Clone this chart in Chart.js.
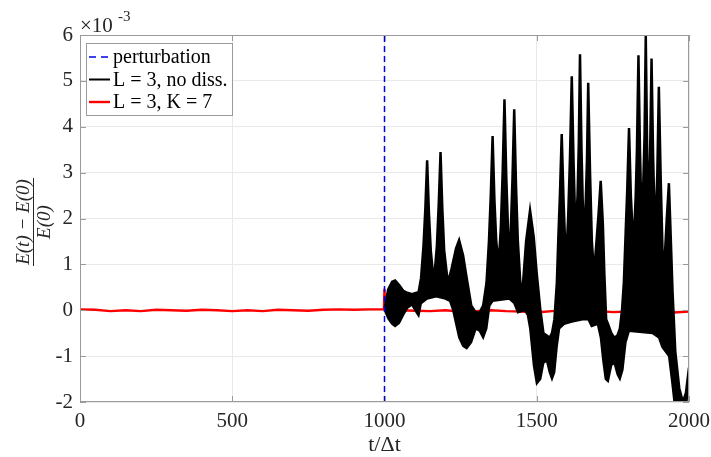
<!DOCTYPE html>
<html>
<head>
<meta charset="utf-8">
<script src="https://cdn.jsdelivr.net/npm/chart.js@4.4.1/dist/chart.umd.min.js"></script>
<style>
  html, body { margin: 0; padding: 0; background: #fff; }
  #wrap { width: 711px; height: 457px; }
</style>
</head>
<body>
<div id="wrap"><canvas id="chart" width="711" height="457"></canvas></div>
<script>
// valeurs en unités de 1e-3
const xTicks = [0, 500, 1000, 1500, 2000];
const yTicks = [-2, -1, 0, 1, 2, 3, 4, 5, 6];

const perturbT = [1000, 1000];
const perturbY = [-2, 6];

const redT = [0, 50, 100, 150, 200, 250, 300, 350, 400, 450, 500, 550, 600, 650, 700, 750, 800, 850, 900, 950,
  998, 1000, 1002, 1050, 1100, 1150, 1200, 1250, 1300, 1350, 1400, 1450, 1500, 1550, 1600, 1650, 1700, 1750,
  1800, 1850, 1900, 1950, 2000];
const redY = [0.02, 0.01, -0.02, 0.00, -0.02, 0.01, 0.00, -0.01, 0.01, 0.00, -0.02, 0.00, -0.02, 0.01, 0.00, -0.01, 0.01, 0.02, 0.01, 0.02,
  0.02, 0.47, 0.00, 0.00, -0.01, -0.02, 0.00, -0.03, -0.02, 0.00, -0.02, -0.03, -0.05, -0.02, 0.00, -0.03, -0.02,
  -0.04, -0.03, -0.04, -0.02, -0.05, -0.03];

// enveloppe haute de la courbe noire (oscillation rapide)
const upperT = [1001, 1012, 1025, 1035, 1048, 1062, 1075, 1090, 1105, 1112,
  1120, 1128, 1134, 1140, 1146, 1152, 1162, 1172, 1178, 1184, 1190, 1196, 1208,
  1220, 1235, 1245, 1258, 1270, 1285, 1300, 1312, 1324, 1335,
  1343, 1349, 1355, 1361, 1367, 1375, 1382, 1388, 1394, 1400, 1406, 1411, 1415, 1420, 1426, 1432, 1438, 1447,
  1455, 1465, 1478, 1490, 1500, 1512, 1522, 1533, 1542, 1550, 1558,
  1566, 1571, 1576, 1582, 1588, 1593, 1598, 1603, 1609, 1615, 1621, 1626, 1629, 1634, 1638, 1642, 1647, 1652,
  1656, 1661, 1665, 1669, 1675, 1681, 1688, 1695, 1703, 1710, 1717, 1722, 1728,
  1734, 1745, 1755, 1765, 1773, 1780,
  1786, 1792, 1797, 1803, 1809, 1815, 1820, 1825, 1829, 1834, 1839, 1843, 1846, 1850, 1854, 1858, 1862, 1865,
  1868, 1872, 1877, 1882, 1887, 1891, 1896, 1901, 1907, 1913, 1920, 1927, 1934, 1940, 1946,
  1955, 1968, 1980, 1990, 2000];
const upperY = [0.05, 0.45, 0.62, 0.65, 0.55, 0.42, 0.38, 0.35, 0.38, 0.40,
  0.7, 1.4, 2.2, 3.27, 2.1, 1.3, 0.6, 1.4, 2.3, 3.45, 2.2, 1.3, 0.6,
  0.9, 1.35, 1.53, 1.2, 0.7, 0.1, -0.05, -0.05, 0.1, 0.6,
  1.5, 2.5, 3.8, 2.4, 1.5, 1.0, 1.8, 3.0, 4.6, 2.9, 1.7, 1.2, 1.8, 2.8, 4.38, 2.7, 1.5, 0.5,
  0.6, 1.5, 2.18, 1.6, 0.8, 0.0, -0.5, -0.55, -0.6, -0.5, -0.2,
  0.6, 1.6, 2.5, 3.84, 2.4, 1.5, 1.3, 2.0, 3.3, 5.1, 3.2, 2.0, 1.8, 2.5, 3.6, 5.58, 3.5, 2.1,
  1.7, 2.4, 3.3, 4.96, 3.0, 1.5, 0.8, 1.4, 2.1, 2.82, 1.9, 0.8, -0.2,
  -0.3, -0.5, -0.6, -0.55, -0.4, 0.0,
  0.6, 1.7, 2.6, 3.97, 2.5, 1.7, 1.7, 2.5, 3.5, 5.56, 3.5, 2.3, 2.3, 2.8, 3.8, 5.98, 3.8, 2.6,
  2.5, 3.3, 5.49, 3.4, 2.0, 2.0, 3.0, 4.87, 2.9, 1.3, 1.1, 2.0, 2.77, 1.6, 0.4,
  -0.9, -1.7, -2.0, -1.8, -1.25];

// enveloppe basse
const lowerT = [1001, 1012, 1025, 1035, 1048, 1062, 1075, 1090, 1105, 1112, 1120, 1140, 1170, 1200, 1215, 1225,
  1235, 1245, 1258, 1270, 1285, 1300, 1312, 1324, 1335, 1345, 1355, 1410, 1426, 1438, 1460, 1470,
  1478, 1490, 1500, 1512, 1522, 1533, 1542, 1550, 1558, 1566, 1574, 1590, 1615, 1650, 1669, 1680,
  1700, 1710, 1718, 1726, 1734, 1745, 1755, 1765, 1773, 1782, 1792, 1803, 1880, 1901, 1912, 1934,
  1945, 1955, 1968, 1980, 1990, 2000];
const lowerY = [0.00, -0.18, -0.30, -0.35, -0.28, -0.10, 0.05, 0.12, -0.05, -0.12, 0.15, 0.25, 0.3, 0.25, 0.2, 0.0,
  -0.3, -0.6, -0.78, -0.83, -0.7, -0.4, -0.45, -0.6, -0.4, 0.1, 0.2, 0.25, 0.15, -0.05, 0.0, -0.1,
  -0.4, -1.2, -1.6, -1.5, -1.15, -1.1, -1.35, -1.5, -1.35, -0.8, -0.4, -0.3, -0.25, -0.2, -0.2, -0.35,
  -0.3, -0.6, -1.1, -1.5, -1.55, -1.2, -1.15, -1.4, -1.5, -1.3, -0.7, -0.45, -0.5, -0.6, -0.8, -1.0,
  -1.6, -2.2, -2.3, -2.3, -2.1, -1.6];

const legendLabels = ['perturbation', 'L = 3, no diss.', 'L = 3, K = 7'];

const SERIF = '"Liberation Serif", "DejaVu Serif", serif';
const AXIS_COLOR = '#9a9a9a';

function toPoints(xs, ys) {
  return xs.map((x, i) => ({ x: x, y: ys[i] }));
}

// cadre, graduations internes, légende, titres
const decorPlugin = {
  id: 'decor',
  afterDraw(chart) {
    const ctx = chart.ctx;
    const a = chart.chartArea;
    const xs = chart.scales.x;
    const ys = chart.scales.y;
    ctx.save();

    // cadre
    ctx.strokeStyle = AXIS_COLOR;
    ctx.lineWidth = 1;
    ctx.strokeRect(a.left + 0.5, a.top + 0.5, a.right - a.left - 1, a.bottom - a.top - 1);

    // graduations vers l'intérieur
    ctx.beginPath();
    xTicks.forEach(v => {
      const px = Math.round(xs.getPixelForValue(v)) + 0.5;
      ctx.moveTo(px, a.bottom); ctx.lineTo(px, a.bottom - 6);
      ctx.moveTo(px, a.top); ctx.lineTo(px, a.top + 6);
    });
    yTicks.forEach(v => {
      const py = Math.round(ys.getPixelForValue(v)) + 0.5;
      ctx.moveTo(a.left, py); ctx.lineTo(a.left + 6, py);
      ctx.moveTo(a.right, py); ctx.lineTo(a.right - 6, py);
    });
    ctx.stroke();

    // facteur ×10^-3
    ctx.fillStyle = '#262626';
    ctx.textBaseline = 'alphabetic';
    ctx.textAlign = 'left';
    ctx.font = '21px ' + SERIF;
    ctx.fillText('×10', a.left, 32);
    ctx.font = '15px ' + SERIF;
    ctx.fillText('-3', a.left + 38, 21);

    // titre axe x
    ctx.font = '22px ' + SERIF;
    ctx.textAlign = 'center';
    ctx.fillStyle = '#262626';
    ctx.fillText('t/Δt', (a.left + a.right) / 2, 451);

    // titre axe y (fraction)
    ctx.save();
    ctx.translate(33, 222);
    ctx.rotate(-Math.PI / 2);
    ctx.font = 'italic 19px ' + SERIF;
    ctx.textAlign = 'center';
    ctx.textBaseline = 'alphabetic';
    ctx.fillText('E(t) − E(0)', 0, -4);
    ctx.textBaseline = 'top';
    ctx.fillText('E(0)', 0, 2);
    ctx.strokeStyle = '#262626';
    ctx.lineWidth = 1;
    ctx.beginPath();
    ctx.moveTo(-44, 0.5); ctx.lineTo(44, 0.5);
    ctx.stroke();
    ctx.restore();

    // légende
    const bx = a.left + 6, by = a.top + 8, bw = 146, bh = 72;
    ctx.fillStyle = '#fff';
    ctx.fillRect(bx, by, bw, bh);
    ctx.strokeStyle = AXIS_COLOR;
    ctx.strokeRect(bx + 0.5, by + 0.5, bw, bh);
    const styles = [
      { color: '#0000e6', dash: [7, 5], width: 1.5 },
      { color: '#000000', dash: [], width: 2 },
      { color: '#ff0000', dash: [], width: 2.4 }
    ];
    ctx.font = '20px ' + SERIF;
    ctx.textAlign = 'left';
    ctx.textBaseline = 'middle';
    legendLabels.forEach((lab, i) => {
      const cy = by + 14 + i * 22.5;
      const st = styles[i];
      ctx.strokeStyle = st.color;
      ctx.lineWidth = st.width;
      ctx.setLineDash(st.dash);
      ctx.beginPath();
      ctx.moveTo(bx + 3, cy); ctx.lineTo(bx + 24, cy);
      ctx.stroke();
      ctx.setLineDash([]);
      ctx.fillStyle = '#000';
      ctx.fillText(lab, bx + 27, cy + 1);
    });

    ctx.restore();
  }
};

const ctx = document.getElementById('chart').getContext('2d');
new Chart(ctx, {
  type: 'line',
  data: {
    datasets: [
      {
        label: legendLabels[0],
        data: toPoints(perturbT, perturbY),
        borderColor: '#0000e6',
        borderWidth: 1.5,
        borderDash: [6, 4],
        pointRadius: 0,
        fill: false
      },
      {
        label: 'envelope-low',
        data: toPoints(lowerT, lowerY),
        borderColor: '#000',
        borderWidth: 2,
        pointRadius: 0,
        fill: false
      },
      {
        label: legendLabels[1],
        data: toPoints(upperT, upperY),
        borderColor: '#000',
        backgroundColor: '#000',
        borderWidth: 2.5,
        pointRadius: 0,
        fill: '-1'
      },
      {
        label: legendLabels[2],
        data: toPoints(redT, redY),
        borderColor: '#ff0000',
        borderWidth: 2.4,
        pointRadius: 0,
        fill: false
      }
    ]
  },
  options: {
    responsive: false,
    animation: false,
    layout: { padding: { top: 35, right: 22, left: 0, bottom: 0 } },
    plugins: {
      legend: { display: false },
      tooltip: { enabled: false }
    },
    scales: {
      x: {
        type: 'linear',
        min: 0,
        max: 2000,
        afterBuildTicks: s => { s.ticks = xTicks.map(v => ({ value: v })); },
        afterFit: s => { s.height = 55; s.paddingLeft = 0; s.paddingRight = 0; },
        grid: { color: '#e9e9e9', drawTicks: false },
        border: { display: false },
        ticks: {
          padding: 7,
          maxRotation: 0,
          color: '#262626',
          font: { family: SERIF, size: 21 },
          callback: v => String(v)
        }
      },
      y: {
        type: 'linear',
        min: -2,
        max: 6,
        afterBuildTicks: s => { s.ticks = yTicks.map(v => ({ value: v })); },
        afterFit: s => { s.width = 80; s.paddingTop = 0; s.paddingBottom = 0; },
        grid: { color: '#e9e9e9', drawTicks: false },
        border: { display: false },
        ticks: {
          padding: 7,
          color: '#262626',
          font: { family: SERIF, size: 21 },
          callback: v => String(v)
        }
      }
    }
  },
  plugins: [decorPlugin]
});
</script>
</body>
</html>
